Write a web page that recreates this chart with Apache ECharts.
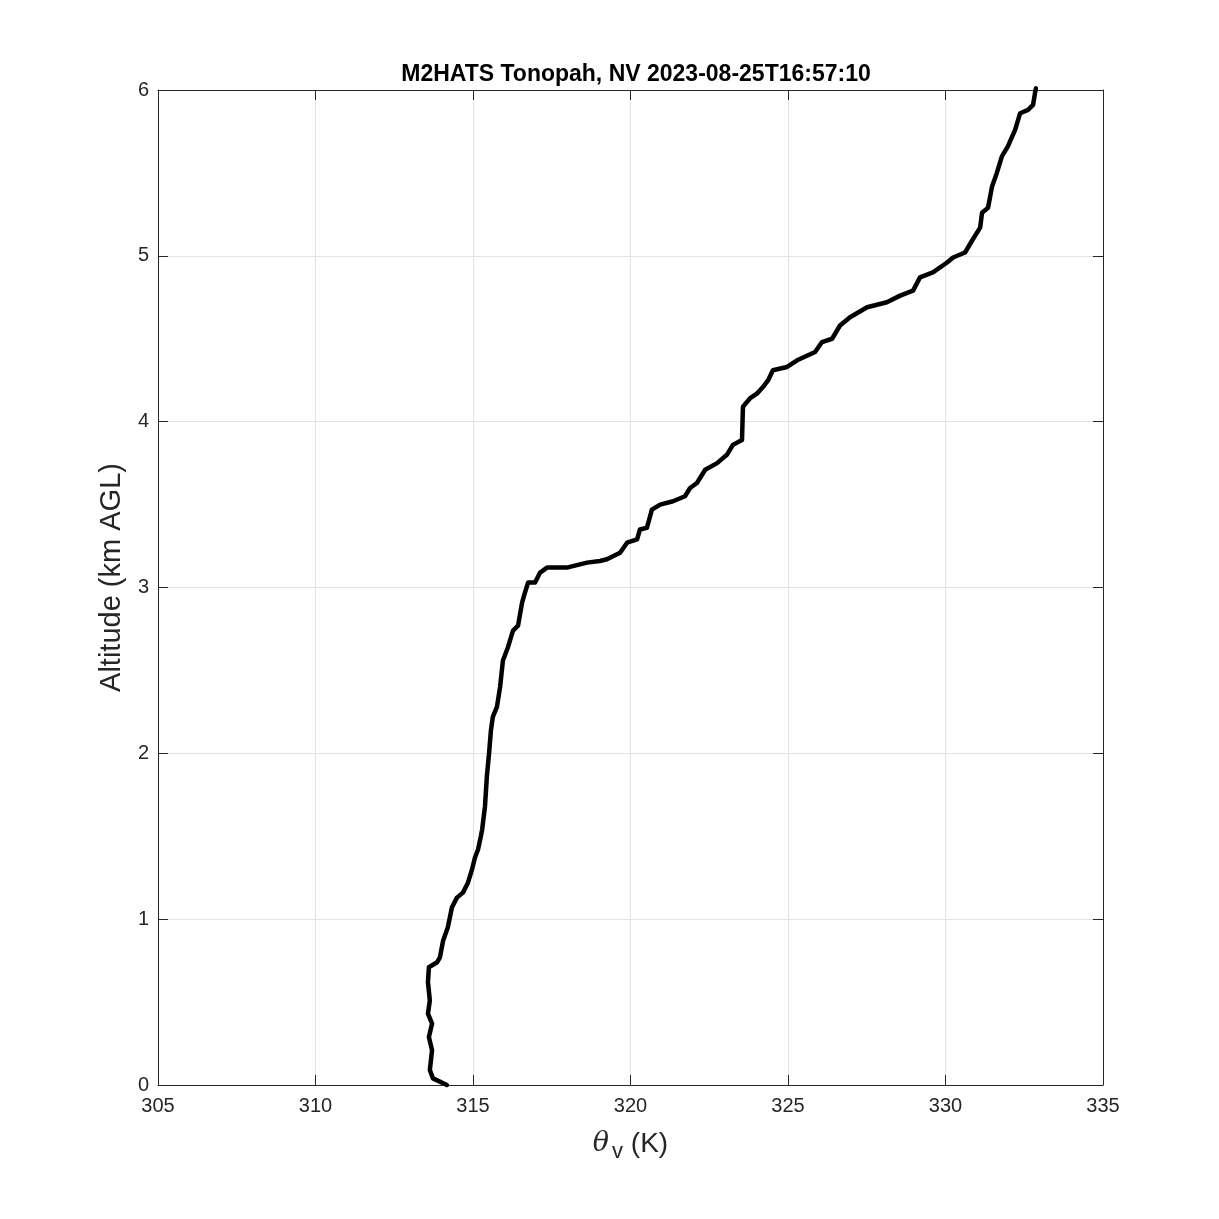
<!DOCTYPE html>
<html>
<head>
<meta charset="utf-8">
<script src="https://cdn.jsdelivr.net/npm/echarts@6/dist/echarts.min.js"></script>
<style>html,body{margin:0;padding:0;background:#fff}#c{width:1219px;height:1219px}</style>
</head>
<body>
<div id="c"></div>
<script>
const thetaV = [314.17,313.73,313.63,313.70,313.60,313.70,313.57,313.63,313.57,313.60,313.86,313.95,314.05,314.20,314.33,314.49,314.68,314.84,314.97,315.06,315.16,315.25,315.29,315.38,315.44,315.51,315.57,315.63,315.76,315.86,315.95,316.11,316.27,316.43,316.56,316.65,316.75,316.97,317.13,317.35,317.98,318.62,319.03,319.25,319.67,319.89,320.21,320.30,320.52,320.68,320.94,321.35,321.73,321.89,322.11,322.37,322.75,323.06,323.25,323.54,323.57,323.79,324.02,324.21,324.37,324.52,324.97,325.29,325.86,326.08,326.40,326.65,326.97,327.51,328.14,328.56,328.97,329.19,329.60,330.05,330.24,330.62,330.87,331.10,331.16,331.35,331.48,331.63,331.79,331.98,332.21,332.37,332.62,332.78,332.84,332.87];
const altitudeKm = [0.00,0.04,0.09,0.21,0.29,0.37,0.43,0.51,0.62,0.71,0.74,0.77,0.87,0.95,1.07,1.13,1.16,1.22,1.30,1.37,1.42,1.50,1.54,1.68,1.86,2.00,2.14,2.22,2.28,2.40,2.56,2.64,2.74,2.77,2.91,2.97,3.03,3.03,3.09,3.12,3.12,3.15,3.16,3.17,3.21,3.27,3.29,3.35,3.36,3.47,3.50,3.52,3.55,3.60,3.63,3.71,3.75,3.80,3.86,3.89,4.09,4.14,4.17,4.21,4.25,4.31,4.33,4.37,4.42,4.48,4.50,4.58,4.63,4.69,4.72,4.76,4.79,4.87,4.90,4.96,4.99,5.02,5.10,5.17,5.26,5.29,5.42,5.50,5.60,5.66,5.76,5.86,5.88,5.91,5.98,6.01];
const xTicks = [305,310,315,320,325,330,335];
const yTicks = [0,1,2,3,4,5,6];
const titleText = 'M2HATS Tonopah, NV 2023-08-25T16:57:10';

const points = thetaV.map((t,i)=>[t, altitudeKm[i]]);
const FONT = 'Liberation Sans, Arial, Helvetica, sans-serif';
const axisCol = '#262626';
const gridCol = '#e3e3e3';

const chart = echarts.init(document.getElementById('c'), null, {renderer:'canvas'});
chart.setOption({
  backgroundColor:'#fff',
  animation:false,
  title:{text:titleText,left:631,top:58,textAlign:'center',
    textStyle:{fontFamily:FONT,fontSize:23,fontWeight:'bold',color:'#000'}},
  grid:{left:158,right:116,top:90,bottom:134,containLabel:false},
  xAxis:[{
    type:'value',min:xTicks[0],max:xTicks[xTicks.length-1],interval:5,position:'bottom',
    axisLine:{show:true,onZero:false,lineStyle:{color:axisCol,width:1}},
    axisTick:{show:true,inside:true,length:10,lineStyle:{color:axisCol}},
    axisLabel:{fontFamily:FONT,fontSize:20,color:axisCol,margin:11},
    splitLine:{show:true,lineStyle:{color:gridCol,width:1}},
    name:'{th|θ}{sub|v}{n| (K)}',nameLocation:'middle',nameGap:40,
    nameTextStyle:{rich:{
      th:{fontFamily:'DejaVu Serif, serif',fontStyle:'italic',fontSize:27,color:axisCol},
      sub:{fontFamily:FONT,fontSize:22,color:axisCol,verticalAlign:'bottom',padding:[16,0,0,3]},
      n:{fontFamily:FONT,fontSize:28,color:axisCol}}}
  },{
    type:'value',min:xTicks[0],max:xTicks[xTicks.length-1],interval:5,position:'top',
    axisLine:{show:true,onZero:false,lineStyle:{color:axisCol,width:1}},
    axisTick:{show:true,inside:true,length:10,lineStyle:{color:axisCol}},
    axisLabel:{show:false},splitLine:{show:false}
  }],
  yAxis:[{
    type:'value',min:yTicks[0],max:yTicks[yTicks.length-1],interval:1,position:'left',
    axisLine:{show:true,onZero:false,lineStyle:{color:axisCol,width:1}},
    axisTick:{show:true,inside:true,length:10,lineStyle:{color:axisCol}},
    axisLabel:{fontFamily:FONT,fontSize:20,color:axisCol,margin:9},
    splitLine:{show:true,lineStyle:{color:gridCol,width:1}},
    name:'Altitude (km AGL)',nameLocation:'middle',nameGap:30,nameRotate:90,
    nameTextStyle:{fontFamily:FONT,fontSize:29,color:axisCol,padding:[0,0,0,20]}
  },{
    type:'value',min:yTicks[0],max:yTicks[yTicks.length-1],interval:1,position:'right',
    axisLine:{show:true,onZero:false,lineStyle:{color:axisCol,width:1}},
    axisTick:{show:true,inside:true,length:10,lineStyle:{color:axisCol}},
    axisLabel:{show:false},splitLine:{show:false}
  }],
  series:[{
    type:'line',xAxisIndex:0,yAxisIndex:0,data:points,
    showSymbol:false,symbol:'none',smooth:false,clip:false,
    lineStyle:{color:'#000',width:4.5,join:'round',cap:'round'}
  }]
});
</script>
</body>
</html>
